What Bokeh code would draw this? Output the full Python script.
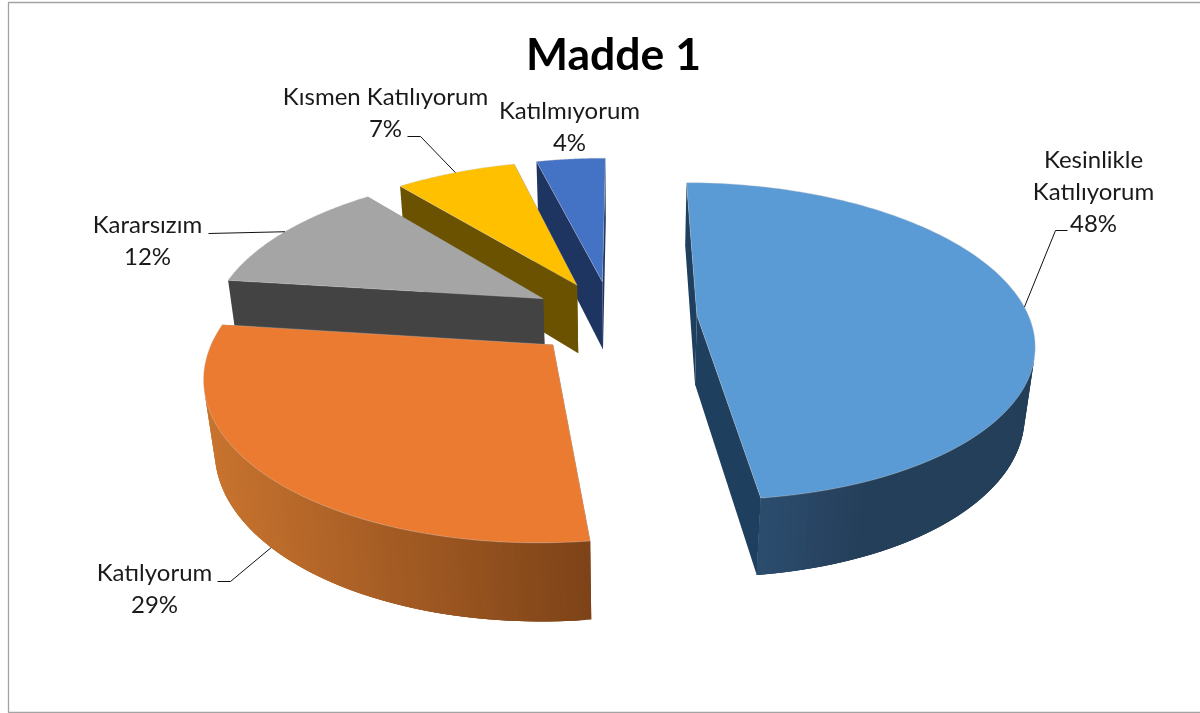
import numpy as np
from bokeh.plotting import figure
from bokeh.models import ColumnDataSource
from bokeh.core.properties import value
from bokeh.embed import file_html
from bokeh.resources import INLINE

title = "Madde 1"
categories = ["Kesinlikle Katılıyorum", "Katılyorum", "Kararsızım", "Kısmen Katılıyorum", "Katılmıyorum"]
values = [48, 29, 12, 7, 4]

top_colors = ["#5B9BD5", "#EB7B30", "#A5A5A5", "#FFC000", "#4472C4"]
wall_colors = ["#1F3F5F", "#7E4318", "#434343", "#6B5200", "#1E3461"]
rim_near = ["#2D4D70", "#7E4318", "#434343", "#6B5200", "#1E3461"]
rim_far = ["#243F59", "#C9742F", "#434343", "#6B5200", "#1E3461"]

# 3D camera fitted to the picture
VX, VY, F, D, TILT, H = 623.54, 464.75, 1689.33, 4.39, 0.5705, 0.2408
offset_x = [0.2196, -0.2075, -0.2484, -0.1463, -0.0675]
offset_y = [-0.8390, -0.6516, -0.9473, -1.0381, -1.0618]

label_lines = [["Kesinlikle", "Katılıyorum"], ["Katılyorum"], ["Kararsızım"], ["Kısmen Katılıyorum"], ["Katılmıyorum"]]
label_x = [1093, 154, 147, 385, 569]
label_y = [158, 571, 223, 95, 109]
leader_angle = [87, 227, 299, 333, None]
leader_depth = [0, 1, 0, 0, 0]
leader_via = [[(1055, 230), (1067, 230)], [(230, 581), (217, 581)], [(208, 233)], [(420, 136), (407, 136)], []]
FONT = "Lato"
LABEL_PX = 24
LINE_H = 32


def project(x, y, z):
    s, c = np.sin(TILT), np.cos(TILT)
    zc = D - (y * c + z * s)
    yc = -y * s + z * c
    return VX + F * x / zc, VY - F * yc / zc


def lerp_hex(a, b, t):
    ca = np.array([int(a[i:i + 2], 16) for i in (1, 3, 5)], float)
    cb = np.array([int(b[i:i + 2], 16) for i in (1, 3, 5)], float)
    v = (ca + (cb - ca) * t).round().astype(int)
    return "#%02X%02X%02X" % tuple(v)


def area(sx, sy):
    return np.sum(sx * np.roll(sy, -1) - np.roll(sx, -1) * sy)


p = figure(width=1200, height=713, x_range=(0, 1200), y_range=(713, 0),
           output_backend="svg", toolbar_location=None, min_border=0,
           background_fill_color="white", border_fill_color="white",
           styles={"position": "fixed", "left": "0px", "top": "0px"})
p.axis.visible = False
p.grid.visible = False
p.outline_line_color = None

# chart frame
p.line([1200, 8, 8, 1200], [2, 2, 712, 712], line_color="#A3A3A3", line_width=1.3)

edges = np.concatenate([[0], np.cumsum(values)]) * 3.6


def slice_arc(i, n=120):
    a = np.radians(np.linspace(edges[i], edges[i + 1], n))
    return offset_x[i] + np.sin(a), offset_y[i] - np.cos(a)


for i in [4, 3, 2, 1, 0]:
    ax, ay = offset_x[i], offset_y[i]
    x, y = slice_arc(i)
    # radial walls
    for k in (0, -1):
        wx = np.array([ax, x[k], x[k], ax])
        wy = np.array([ay, y[k], y[k], ay])
        wz = np.array([0, 0, -H, -H])
        sx, sy = project(wx, wy, wz)
        p.patch(sx, sy, fill_color=wall_colors[i], line_color=None)
    # outer rim: front-facing strips, each overlapping the next, so no seams show
    rim_sx, _ = project(x, y, 0.0)
    xs, ys, cols = [], [], []
    for j in range(len(x) - 1):
        e = min(j + 3, len(x) - 1)
        qx = np.array([x[j], x[e], x[e], x[j]])
        qy = np.array([y[j], y[e], y[e], y[j]])
        qz = np.array([0, 0, -H, -H])
        sx, sy = project(qx, qy, qz)
        if area(sx, sy) >= 0:
            continue
        xs.append(sx); ys.append(sy)
        # shading follows the screen position along the rim
        t = (rim_sx[0] - rim_sx[j]) / (rim_sx[0] - rim_sx.min() + 1e-9)
        if i == 0:
            t = min(1.0, (rim_sx[j] - rim_sx[-1]) / 110.0)
        cols.append(lerp_hex(rim_near[i], rim_far[i], t))
    if xs:
        p.patches(xs, ys, fill_color=cols, line_color=None)
    # top face
    sx, sy = project(np.concatenate([[ax], x]), np.concatenate([[ay], y]), 0.0)
    p.patch(sx, sy, fill_color=top_colors[i], line_color="#C8C8C8", line_alpha=0.45, line_width=0.8)

# leader lines
for i in range(5):
    if leader_angle[i] is None:
        continue
    a = np.radians(leader_angle[i])
    sx, sy = project(offset_x[i] + np.sin(a), offset_y[i] - np.cos(a), -H * leader_depth[i])
    pts = [(sx, sy)] + leader_via[i]
    p.line([q[0] for q in pts], [q[1] for q in pts], line_color="#111111", line_width=1)

# labels
tx, ty, tt = [], [], []
for i in range(5):
    lines = label_lines[i] + ["%d%%" % values[i]]
    for j, s in enumerate(lines):
        tx.append(label_x[i]); ty.append(label_y[i] + j * LINE_H); tt.append(s)
src = ColumnDataSource(dict(x=tx, y=ty, t=tt))
p.text("x", "y", text="t", source=src, text_font=value(FONT), text_font_size="%dpx" % LABEL_PX,
       text_align="center", text_baseline="middle", text_color="#1A1A1A")
p.text([613], [52], text=[title], text_font=value(FONT), text_font_size="44.5px", text_font_style="bold",
       text_align="center", text_baseline="middle", text_color="#000000")

open("out.html", "w").write(file_html(p, INLINE))
